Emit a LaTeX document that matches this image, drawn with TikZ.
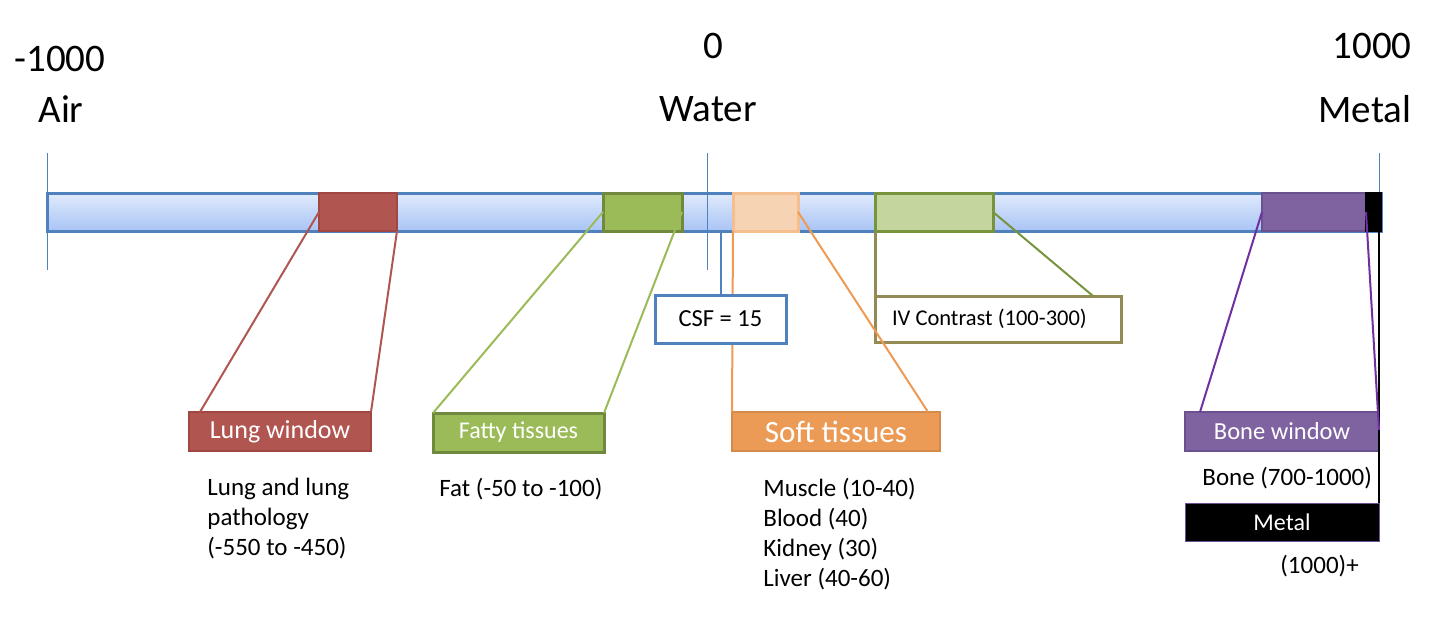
\documentclass[tikz,border=0pt]{standalone}
\usepackage{fontspec}
\setmainfont{Carlito}

\definecolor{barline}{HTML}{4F81BD}
\definecolor{bartop}{HTML}{E0EAFC}
\definecolor{barbot}{HTML}{A9C4F5}
\definecolor{lungc}{HTML}{B05550}
\definecolor{lungd}{HTML}{A04643}
\definecolor{fatc}{HTML}{9BBB59}
\definecolor{fatd}{HTML}{71893F}
\definecolor{softl}{HTML}{F6D3B3}
\definecolor{softd}{HTML}{F5BE8E}
\definecolor{softc}{HTML}{EB9B55}
\definecolor{softln}{HTML}{EE9A55}
\definecolor{ivl}{HTML}{C4D69D}
\definecolor{ivd}{HTML}{77933C}
\definecolor{ivbox}{HTML}{948A54}
\definecolor{bonec}{HTML}{7F63A0}
\definecolor{boned}{HTML}{6A5290}
\definecolor{boneln}{HTML}{7030A0}

\begin{document}
\begin{tikzpicture}[x=1pt, y=-1pt, thick,
    box/.style={anchor=north west, inner sep=0pt, outer sep=0pt},
    band/.style={box, minimum height=38},
    winbox/.style={box, minimum height=39, text=white, line width=1.5pt},
    txt/.style={font=\fontsize{25}{30}\selectfont, align=left, anchor=north west, inner sep=0pt},
    head/.style={font=\fontsize{39}{47}\selectfont},
    tick/.style={barline, line width=1pt},
    link/.style={line width=2pt}]
		\useasboundingbox (0,0) rectangle (1446,626);
		
		% scale ends
		\node[head] (lo) at (60,59) {-1000};
		\node[head] (air) at (61,109) {Air};
		\node[head] (zero) at (713,46) {0};
		\node[head] (water) at (708,109) {Water};
		\node[head] (hi) at (1372,46) {1000};
		\node[head] (metal) at (1365,109) {Metal};
		
		% the bar and its bands
		\node[band, draw=barline, line width=3pt, top color=bartop, bottom color=barbot, minimum width=1334] (bar) at (47,193) {};
		\draw[tick] (47,153) -- (47,270);
		\draw[tick] (707,153) -- (707,270);
		\draw[tick] (1379,153) -- (1379,193);
		\node[band, fill=lungc, draw=lungd, line width=1.5pt, minimum width=78] (lungM) at (319,193) {};
		\node[band, fill=fatc, draw=fatd, line width=3pt, minimum width=79] (fatM) at (603,193) {};
		\node[band, fill=softl, draw=softd, line width=3pt, minimum width=65] (softM) at (733,193) {};
		\node[band, fill=ivl, draw=ivd, line width=3pt, minimum width=118] (ivM) at (875,193) {};
		\node[band, fill=bonec, draw=boned, line width=1.5pt, minimum width=104] (boneM) at (1262,193) {};
		\node[band, fill=black, draw=black, line width=1.5pt, minimum width=15] (metalM) at (1366,193) {};
		
		% boxes
		\node[winbox, fill=lungc, draw=lungd, minimum width=182, font=\fontsize{26}{31}\selectfont] (lungB) at (189,412) {Lung window};
		\node[winbox, fill=fatc, draw=fatd, line width=3pt, minimum width=171, font=\fontsize{24}{29}\selectfont] (fatB) at (433,413) {Fatty tissues};
		\node[winbox, fill=softc, draw=softc!90!black, minimum width=208, font=\fontsize{31}{37}\selectfont] (softB) at (732,412) {Soft tissues};
		\node[winbox, fill=bonec, draw=boned, minimum width=194, font=\fontsize{24.5}{29}\selectfont] (boneB) at (1185,412) {Bone window};
		\node[box, fill=black, draw=boned, line width=1pt, text=white, minimum width=194, minimum height=38, font=\fontsize{24}{29}\selectfont] (metalB) at (1185,503) {Metal};
		\node[box, fill=white, draw=ivbox, line width=3pt, inner xsep=17pt, text width=212pt, align=flush left, minimum height=46, font=\fontsize{22.5}{27}\selectfont] (ivB) at (875,296) {IV Contrast (100-300)};
		
		% connectors
		\draw[link, lungc] (lungM.west) -- ([xshift=11pt]lungB.north west);
		\draw[link, lungc] (lungM.south east) -- (lungB.north east);
		\draw[link, fatc] (fatM.west) -- (fatB.north west);
		\draw[link, fatc] (fatM.east) -- (fatB.north east);
		\draw[link, softln] (softM.south west) -- (softB.north west);
		\draw[link, softln] (softM.east) -- ([xshift=-12pt]softB.north east);
		\draw[line width=3pt, ivbox] (ivM.south west) -- (ivB.north west);
		\draw[link, ivd] (ivM.east) -- ([xshift=-28pt]ivB.north east);
		\draw[line width=2.5pt, black] (metalB.north east |- bar.south) -- (metalB.north east);
		\draw[link, boneln] (boneM.west) -- ([xshift=15pt]boneB.north west);
		\draw[link, boneln] (boneM.east) -- ([yshift=-18pt]boneB.north east);
		
		% CSF sits over the soft tissue line
		\node[box, fill=white, draw=barline, line width=3pt, minimum width=131, minimum height=48, font=\fontsize{24.5}{29}\selectfont] (csf) at (655,295) {CSF = 15};
		\draw[link, barline] (csf.north) -- (csf.north |- bar.south);
		
		% values
		\node[txt] (lungT) at (207,478) {Lung and lung\\pathology\\(-550 to -450)};
		\node[txt] (fatT) at (439,478) {Fat (-50 to -100)};
		\node[txt] (softT) at (763,478) {Muscle (10-40)\\Blood (40)\\Kidney (30)\\Liver (40-60)};
		\node[txt] (boneT) at (1202,467) {Bone (700-1000)};
		\node[txt] (plus) at (1280,555) {(1000)+};
	\end{tikzpicture}
\end{document}
